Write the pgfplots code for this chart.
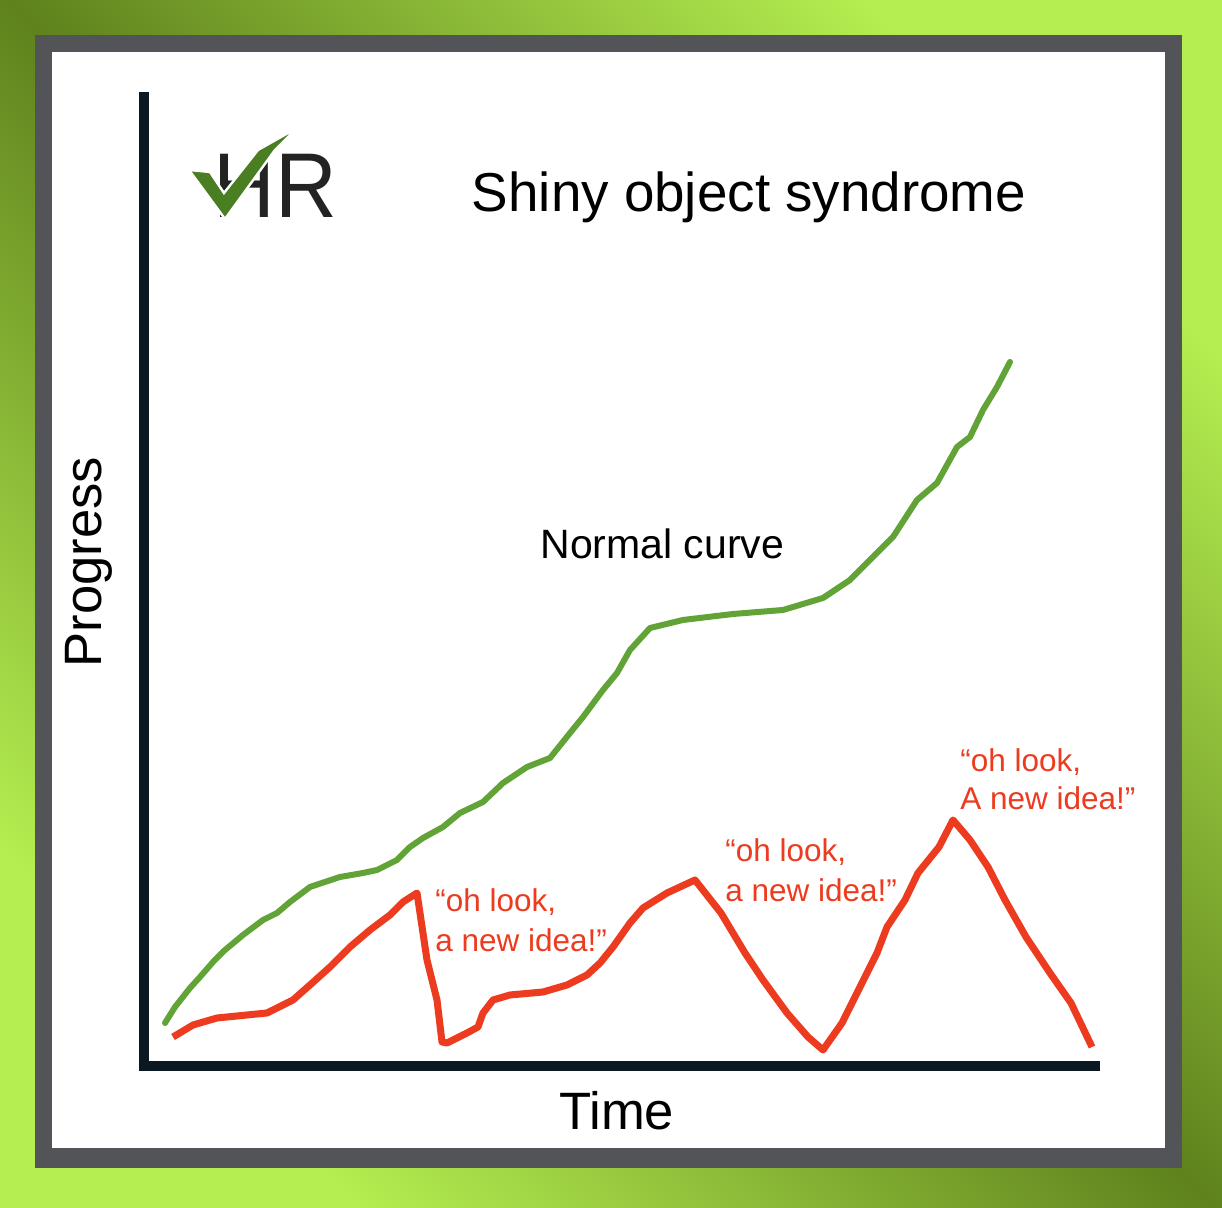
\documentclass[border=0pt]{standalone}
\usepackage{fontspec}
\setmainfont{Liberation Sans}
\usepackage{graphicx}
\usepackage{pgfplots}
\pgfplotsset{compat=1.18}

\definecolor{bgdark}{HTML}{5F821D}
\definecolor{bglight}{HTML}{B4EE50}
\definecolor{frame}{HTML}{525458}
\definecolor{axisc}{HTML}{0B1822}
\definecolor{normalc}{HTML}{62A337}
\definecolor{shinyc}{HTML}{EC3B1E}
\definecolor{logogreen}{HTML}{4A7E22}
\definecolor{logogray}{HTML}{232323}

\begin{document}
\begin{tikzpicture}
\useasboundingbox (0,0) rectangle (611pt,604pt);
% background, frame and card
\shade[top color=bglight, bottom color=bglight, middle color=bgdark, shading angle=-45]
  (0,0) rectangle (611pt,604pt);
\fill[frame] (17.5pt,20pt) rectangle (591pt,586.5pt);
\fill[white] (26pt,30pt) rectangle (582.5pt,578pt);

% logo (pixel coordinates)
\begin{scope}[shift={(0,604pt)}, x=0.5pt, y=-0.5pt]
  \node[anchor=base west, inner sep=0, text=logogray] at (213,218)
    {\fontsize{46}{46}\selectfont\scalebox{0.93}[1]{HR}};
  \filldraw[fill=logogreen, draw=white, line width=1.2pt, line join=miter]
    (189,170) -- (210,172) -- (224,193) -- (258,150) -- (297,128)
    -- (275,150) -- (225,219) -- cycle;
\end{scope}

\begin{axis}[
  at={(72pt,71pt)}, anchor=south west,
  scale only axis, width=475.5pt, height=484.5pt,
  xmin=0, xmax=951, ymin=0, ymax=969,
  axis lines=left,
  axis line style={-, line width=5pt, color=axisc, line cap=rect},
  ticks=none,
  clip=false,
  xlabel={Time}, ylabel={Progress},
  xlabel style={font=\fontsize{26.3}{30}\selectfont, at={(axis description cs:0.497,0)}, anchor=center, yshift=-22.5pt},
  ylabel style={font=\fontsize{26.3}{30}\selectfont, at={(axis description cs:0,0.52)}, anchor=center, yshift=27.5pt},
]
% normal progress
\addplot[normalc, line width=3pt, line join=round, line cap=round] coordinates {
  (21,43) (31,59) (46,78) (56,89) (69,104) (81,116) (99,131) (119,146)
  (133,153) (146,164) (166,179) (196,189) (219,193) (233,196) (253,206)
  (266,219) (279,228) (299,239) (316,253) (339,264) (359,283) (383,299)
  (406,308) (426,333) (439,349) (459,376) (473,393) (486,416) (506,438)
  (539,446) (589,452) (639,456) (679,468) (706,486) (723,503) (749,529)
  (773,566) (793,583) (813,619) (826,629) (839,656) (853,679) (866,704)
};
% shiny object syndrome
\addplot[shinyc, line width=3.5pt, line join=round] coordinates {
  (29,29) (49,41) (73,48) (123,53) (133,58) (149,66) (166,81) (186,99)
  (206,119) (226,136) (246,151) (259,164) (273,173) (283,106) (293,66)
  (298,24) (303,23) (323,33) (334,39) (339,53) (349,66) (366,71) (399,74)
  (423,81) (443,91) (456,103) (469,119) (486,143) (499,158) (523,173)
  (551,186) (577,153) (601,113) (619,86) (643,53) (664,29) (679,16)
  (698,43) (716,79) (733,113) (743,139) (761,166) (774,193) (795,219)
  (809,246) (826,226) (844,199) (861,166) (882,129) (906,93) (927,63)
  (948,19)
};

\node[anchor=base, inner sep=0] at (axis cs:605,854)
  {\fontsize{27.4}{33}\selectfont Shiny object syndrome};
\node[anchor=base west, inner sep=0] at (axis cs:396,507)
  {\fontsize{20.5}{24}\selectfont Normal curve};

\begin{scope}[every node/.style={anchor=base west, inner sep=0, text=shinyc,
    font=\fontsize{15.75}{20}\selectfont}]
  \node at (axis cs:291,154) {“oh look,};
  \node at (axis cs:291,114) {a new idea!”};
  \node at (axis cs:581,204) {“oh look,};
  \node at (axis cs:581,164) {a new idea!”};
  \node at (axis cs:816,294) {“oh look,};
  \node at (axis cs:816,256) {A new idea!”};
\end{scope}
\end{axis}
\end{tikzpicture}
\end{document}
